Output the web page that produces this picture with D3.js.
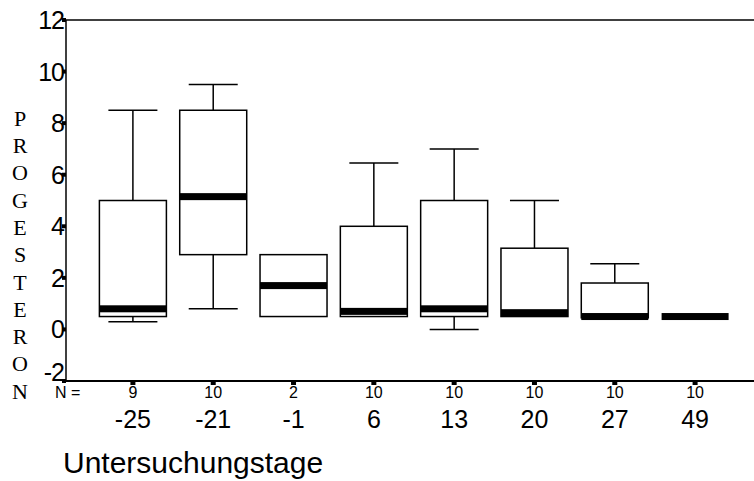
<!DOCTYPE html>
<html><head><meta charset="utf-8">
<script src="https://cdn.jsdelivr.net/npm/d3@7"></script>
<style>body{margin:0;background:#fff}svg{display:block}</style>
</head><body>
<script>
const categories = ["-25","-21","-1","6","13","20","27","49"];
const counts = [9,10,2,10,10,10,10,10];
const whiskerLow = [0.3,0.8,0.5,0.5,0.0,0.5,0.45,0.5];
const q1 = [0.5,2.9,0.5,0.5,0.5,0.5,0.45,0.5];
const median = [0.8,5.15,1.7,0.7,0.8,0.65,0.5,0.5];
const q3 = [5.0,8.5,2.9,4.0,5.0,3.15,1.8,0.5];
const whiskerHigh = [8.5,9.5,2.9,6.45,7.0,5.0,2.55,0.5];
const yTicks = [-2,0,2,4,6,8,10,12];
const yTitle = "PROGESTERON";
const xTitle = "Untersuchungstage";

const W = 754, H = 481;
const svg = d3.select("body").append("svg").attr("width", W).attr("height", H);
const y = d3.scaleLinear().domain([-2,12]).range([381,20]);
const x = d3.scalePoint().domain(categories).range([66,762]).padding(0.833);
const boxW = 67, capW = 49;
const data = categories.map((c,i)=>({c,n:counts[i],lo:whiskerLow[i],q1:q1[i],med:median[i],q3:q3[i],hi:whiskerHigh[i]}));

// frame
svg.append("line").attr("x1",66).attr("x2",W).attr("y1",20).attr("y2",20).attr("stroke","#000").attr("stroke-width",1.5);
svg.append("line").attr("x1",66).attr("x2",66).attr("y1",20).attr("y2",381).attr("stroke","#000").attr("stroke-width",1.5);
svg.append("line").attr("x1",64).attr("x2",W).attr("y1",381).attr("y2",381).attr("stroke","#000").attr("stroke-width",2);

// y axis ticks & labels
const yg = svg.append("g").attr("font-family","Liberation Sans, Arial, sans-serif").attr("font-size",25);
yTicks.forEach(t=>{
  yg.append("rect").attr("x",62).attr("y",y(t)-2).attr("width",4).attr("height",4).attr("fill","#000");
  yg.append("text").attr("x",64).attr("y",y(t) - (t===-2?9:0)).attr("dy","0.36em").attr("text-anchor","end").attr("letter-spacing",-1).text(t);
});

// y title vertical letters
const yt = svg.append("g").attr("font-family","Liberation Serif, Times New Roman, serif").attr("font-size",22).attr("text-anchor","middle");
yTitle.split("").forEach((ch,i)=>{
  yt.append("text").attr("x",20).attr("y",118+i*27.3).attr("dy","0.35em").text(ch);
});

// boxes
const g = svg.append("g").attr("stroke","#000").attr("fill","none");
data.forEach(d=>{
  const cx = x(d.c);
  if (d.n > 2) {
    if (d.hi > d.q3) {
      g.append("line").attr("x1",cx).attr("x2",cx).attr("y1",y(d.hi)).attr("y2",y(d.q3)).attr("stroke-width",1.5);
      g.append("line").attr("x1",cx-capW/2).attr("x2",cx+capW/2).attr("y1",y(d.hi)).attr("y2",y(d.hi)).attr("stroke-width",1.5);
    }
    if (d.lo < d.q1) {
      g.append("line").attr("x1",cx).attr("x2",cx).attr("y1",y(d.lo)).attr("y2",y(d.q1)).attr("stroke-width",1.5);
      g.append("line").attr("x1",cx-capW/2).attr("x2",cx+capW/2).attr("y1",y(d.lo)).attr("y2",y(d.lo)).attr("stroke-width",1.5);
    }
  }
  if (d.q3 > d.q1) {
    g.append("rect").attr("x",cx-boxW/2).attr("y",y(d.q3)).attr("width",boxW).attr("height",y(d.q1)-y(d.q3)).attr("fill","#fff").attr("stroke-width",1.5);
  }
  g.append("rect").attr("x",cx-boxW/2).attr("y",y(d.med)-3.5).attr("width",boxW).attr("height",7).attr("fill","#000").attr("stroke","none");
});

// x ticks, counts, labels
const xg = svg.append("g").attr("font-family","Liberation Sans, Arial, sans-serif").attr("text-anchor","middle");
xg.append("text").attr("x",55).attr("y",398).attr("font-size",16).attr("text-anchor","start").text("N =");
data.forEach(d=>{
  const cx = x(d.c);
  xg.append("rect").attr("x",cx-2.5).attr("y",381).attr("width",5).attr("height",4).attr("fill","#000");
  xg.append("text").attr("x",cx).attr("y",398).attr("font-size",16).text(d.n);
  xg.append("text").attr("x",cx).attr("y",428).attr("font-size",25).text(d.c);
});
svg.append("text").attr("x",63).attr("y",473).attr("font-family","Liberation Sans, Arial, sans-serif").attr("font-size",30).text(xTitle);
</script>
</body></html>
